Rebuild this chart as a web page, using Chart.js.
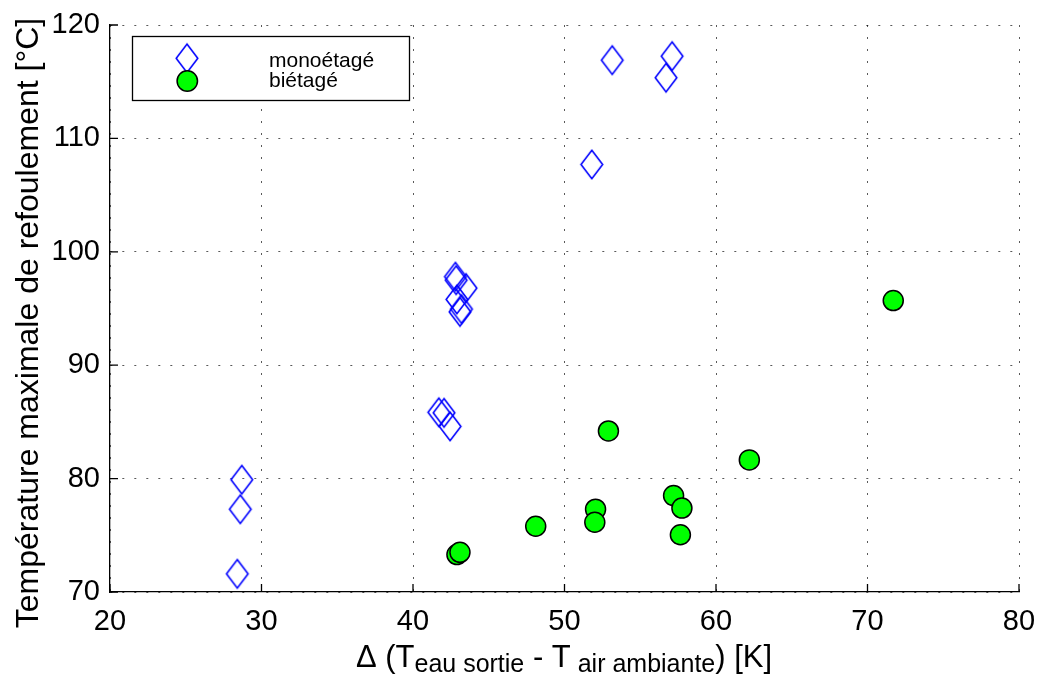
<!DOCTYPE html>
<html lang="fr">

<head>
  <meta charset="UTF-8" />
  <title>Température de refoulement</title>
  <script src="https://cdn.jsdelivr.net/npm/chart.js"></script>
  <style>
    * {
      box-sizing: border-box;
      margin: 0;
      padding: 0
    }

    body {
      background: #fff;
      width: 1043px;
      height: 677px;
      overflow: hidden
    }
  </style>
</head>

<body>
  <canvas id="graphe" width="1043" height="677"></canvas>
  <script>
    // Données : écart de température (K) et température max de refoulement (°C)
    const monoX = [28.4, 28.6, 28.7, 41.7, 42.05, 42.45, 42.8, 42.85, 43.5, 42.9, 43.1, 43.2, 51.8, 53.15, 56.7, 57.1];
    const monoY = [71.6, 77.3, 79.9, 85.85, 85.8, 84.6, 97.8, 97.5, 96.8, 95.8, 94.7, 94.95, 107.7, 116.9, 115.35, 117.25];
    const biX = [42.9, 43.1, 48.1, 52.05, 52.0, 52.9, 57.2, 57.75, 57.65, 62.2, 71.7];
    const biY = [73.3, 73.5, 75.8, 77.3, 76.15, 84.2, 78.5, 77.4, 75.05, 81.65, 95.7];
    const xTicks = [20, 30, 40, 50, 60, 70, 80];
    const yTicks = [70, 80, 90, 100, 110, 120];
    const seriesNames = ['monoétagé', 'biétagé'];

    const FONT = '"Liberation Sans", Arial, Helvetica, sans-serif';

    // losange bleu étiré (marqueur 'd' façon matlab)
    function makeDiamond() {
      const c = document.createElement('canvas');
      c.width = 26; c.height = 33;
      const g = c.getContext('2d');
      g.strokeStyle = '#0000ff';
      g.lineWidth = 1.6;
      g.beginPath();
      g.moveTo(13, 2.3); g.lineTo(23.8, 16.5); g.lineTo(13, 30.7); g.lineTo(2.2, 16.5);
      g.closePath();
      g.stroke();
      return c;
    }
    const diamond = makeDiamond();

    const toPts = (xs, ys) => xs.map((x, i) => ({ x, y: ys[i] }));

    // ticks vers l'intérieur, titres d'axes et légende
    const decor = {
      id: 'decor',
      afterDraw(chart) {
        const { ctx, chartArea: a, scales } = chart;
        ctx.save();
        ctx.strokeStyle = '#000';
        ctx.lineWidth = 1.3;
        ctx.beginPath();
        xTicks.forEach(v => {
          const px = scales.x.getPixelForValue(v);
          ctx.moveTo(px, a.bottom); ctx.lineTo(px, a.bottom - 8);
        });
        yTicks.forEach(v => {
          const py = scales.y.getPixelForValue(v);
          ctx.moveTo(a.left, py); ctx.lineTo(a.left + 8, py);
        });
        ctx.stroke();

        ctx.fillStyle = '#000';
        // titre Y
        ctx.save();
        ctx.translate(38, 323);
        ctx.rotate(-Math.PI / 2);
        ctx.font = '32px ' + FONT;
        ctx.textAlign = 'center';
        ctx.textBaseline = 'alphabetic';
        ctx.fillText('Température maximale de refoulement [°C]', 0, 0);
        ctx.restore();

        // titre X avec indices
        const big = '31px ' + FONT, small = '25px ' + FONT;
        const parts = [
          ['Δ (T', big, 0], ['eau sortie', small, 5], [' - T', big, 0],
          [' air ambiante', small, 5], [') [K]', big, 0]
        ];
        let w = 0;
        parts.forEach(p => { ctx.font = p[1]; w += ctx.measureText(p[0]).width; });
        let x = 564 - w / 2;
        ctx.textAlign = 'left';
        ctx.textBaseline = 'alphabetic';
        parts.forEach(p => {
          ctx.font = p[1];
          ctx.fillText(p[0], x, 667 + p[2]);
          x += ctx.measureText(p[0]).width;
        });

        // légende
        ctx.fillStyle = '#fff';
        ctx.fillRect(132, 36, 278, 65);
        ctx.strokeStyle = '#000';
        ctx.lineWidth = 1.3;
        ctx.strokeRect(132.5, 36.5, 277, 64);
        ctx.drawImage(diamond, 187 - 13, 58.3 - 16.5);
        ctx.beginPath();
        ctx.arc(187.3, 81, 10.2, 0, Math.PI * 2);
        ctx.fillStyle = '#00ff00';
        ctx.fill();
        ctx.lineWidth = 1.5;
        ctx.stroke();
        ctx.fillStyle = '#000';
        ctx.font = '21px ' + FONT;
        ctx.fillText(seriesNames[0], 269, 66.5);
        ctx.fillText(seriesNames[1], 269, 87);
        ctx.restore();
      }
    };

    const gridOpts = { color: 'rgba(0,0,0,0.65)', lineWidth: 1, drawTicks: false };
    const borderOpts = { display: true, color: '#000', width: 1.3, dash: [2, 10] };

    new Chart(document.getElementById('graphe'), {
      type: 'scatter',
      data: {
        datasets: [{
          label: seriesNames[0],
          data: toPts(monoX, monoY),
          pointStyle: diamond,
          pointRadius: 12
        }, {
          label: seriesNames[1],
          data: toPts(biX, biY),
          pointStyle: 'circle',
          pointRadius: 10,
          backgroundColor: '#00ff00',
          borderColor: '#000',
          borderWidth: 1.5
        }]
      },
      options: {
        responsive: false,
        animation: false,
        layout: { padding: { top: 25, right: 24, left: 0, bottom: 0 } },
        plugins: { legend: { display: false }, tooltip: { enabled: false } },
        scales: {
          x: {
            type: 'linear', min: 20, max: 80,
            afterBuildTicks: s => { s.ticks = xTicks.map(v => ({ value: v })); },
            afterFit: s => { s.height = 85; s.paddingLeft = 0; s.paddingRight = 0; },
            ticks: { color: '#000', padding: 13, font: { family: FONT, size: 29 } },
            grid: gridOpts,
            border: borderOpts
          },
          y: {
            type: 'linear', min: 70, max: 120,
            afterBuildTicks: s => { s.ticks = yTicks.map(v => ({ value: v })); },
            afterFit: s => { s.width = 110; s.paddingTop = 0; s.paddingBottom = 0; },
            ticks: { color: '#000', padding: 10, font: { family: FONT, size: 29 } },
            grid: gridOpts,
            border: borderOpts
          }
        }
      },
      plugins: [decor]
    });
  </script>
</body>

</html>
